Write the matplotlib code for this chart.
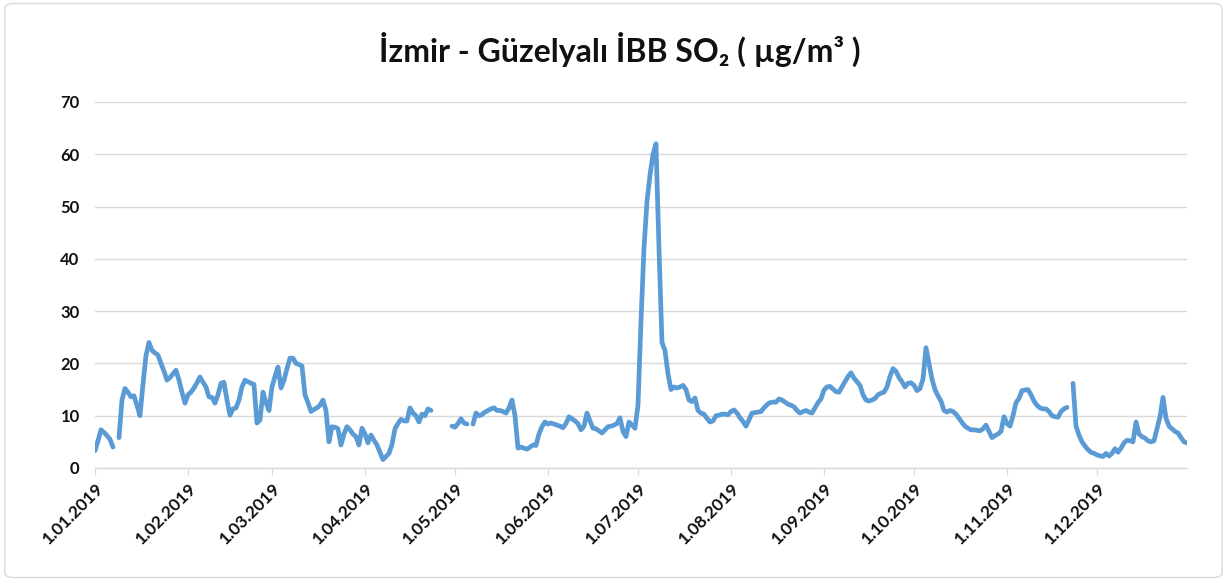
import numpy as np
import matplotlib
matplotlib.use("Agg")
import matplotlib.pyplot as plt
from matplotlib.patches import FancyBboxPatch

nan = np.nan
title = "İzmir - Güzelyalı İBB SO₂ ( µg/m³ )"
month_labels = ["1.01.2019", "1.02.2019", "1.03.2019", "1.04.2019", "1.05.2019", "1.06.2019",
                "1.07.2019", "1.08.2019", "1.09.2019", "1.10.2019", "1.11.2019", "1.12.2019"]
month_days = [31, 28, 31, 30, 31, 30, 31, 31, 30, 31, 30, 31]

jan = [3.3, 5.2, 7.3, 6.8, 6.2, 5.5, 4.0, nan, 5.8, 13.0, 15.2, 14.5, 13.6, 13.8, 12.0, 10.0,
       16.0, 21.5, 24.0, 22.5, 22.0, 21.6, 20.0, 18.5, 16.8, 17.3, 18.0, 18.7, 16.8, 14.5, 12.4]
feb = [14.0, 14.5, 15.3, 16.3, 17.4, 16.4, 15.5, 13.6, 13.5, 12.4, 14.0, 16.2, 16.4, 13.0,
       10.1, 11.3, 11.5, 13.0, 15.5, 16.8, 16.5, 16.2, 16.0, 8.6, 9.2, 14.5, 12.5, 11.0]
mar = [15.5, 17.5, 19.3, 15.3, 16.8, 19.0, 21.0, 21.0, 20.0, 19.8, 19.5, 14.0, 12.5, 10.8,
       11.2, 11.5, 12.0, 13.0, 11.0, 5.0, 7.9, 7.8, 7.5, 4.4, 6.5, 7.9, 7.3, 6.5, 6.0, 4.4, 7.6]
apr = [6.5, 4.8, 6.3, 5.3, 4.4, 3.0, 1.6, 2.2, 2.8, 4.5, 7.5, 8.5, 9.3, 9.0, 9.0, 11.5, 10.5,
       10.0, 8.8, 10.3, 10.0, 11.3, 11.0, nan, nan, nan, nan, nan, nan, 8.0]
may = [7.8, 8.5, 9.4, 8.6, 8.4, nan, 8.4, 10.5, 10.0, 10.2, 10.7, 11.0, 11.3, 11.5, 11.0,
       11.0, 10.8, 10.5, 11.5, 13.0, 10.0, 3.8, 4.0, 3.8, 3.6, 4.0, 4.4, 4.3, 6.5, 7.9, 8.8]
jun = [8.4, 8.6, 8.4, 8.2, 8.0, 7.7, 8.5, 9.8, 9.4, 9.0, 8.5, 7.3, 8.0, 10.5, 9.0, 7.6, 7.5,
       7.1, 6.7, 7.3, 7.9, 8.0, 8.2, 8.5, 9.6, 7.0, 6.0, 8.8, 8.2, 7.6]
jul = [12.0, 28.0, 42.0, 51.0, 56.0, 60.0, 62.0, 42.0, 24.0, 22.5, 18.0, 15.0, 15.5, 15.3,
       15.5, 15.8, 15.0, 13.0, 12.7, 13.4, 11.0, 10.5, 10.3, 9.5, 8.8, 9.0, 10.0, 10.1, 10.3,
       10.3, 10.2]
aug = [10.8, 11.1, 10.5, 9.6, 8.9, 8.0, 9.2, 10.5, 10.6, 10.7, 10.8, 11.5, 12.1, 12.5, 12.6,
       12.6, 13.2, 13.0, 12.6, 12.2, 12.0, 11.7, 11.0, 10.5, 10.8, 11.0, 10.7, 10.5, 11.5, 12.5,
       13.2]
sep = [14.9, 15.5, 15.6, 15.1, 14.6, 14.5, 15.5, 16.5, 17.5, 18.2, 17.2, 16.5, 15.8, 14.0,
       13.0, 12.8, 13.0, 13.3, 14.0, 14.3, 14.5, 15.5, 17.5, 19.0, 18.5, 17.3, 16.5, 15.5, 16.2,
       16.3]
oct_ = [15.8, 14.8, 15.2, 17.0, 23.0, 20.0, 17.0, 15.0, 13.8, 12.8, 11.0, 10.7, 11.0, 10.8,
        10.3, 9.5, 8.7, 8.0, 7.6, 7.3, 7.3, 7.2, 7.1, 7.5, 8.2, 7.0, 5.8, 6.2, 6.5, 7.0, 9.8]
nov = [8.5, 8.0, 10.0, 12.5, 13.3, 14.8, 14.9, 15.0, 14.0, 12.8, 12.0, 11.5, 11.3, 11.3, 10.8,
       10.0, 9.8, 9.7, 10.8, 11.3, 11.6, nan, 16.2, 8.0, 6.3, 5.0, 4.2, 3.5, 3.0, 2.8]
dec = [2.5, 2.3, 2.2, 2.8, 2.3, 2.8, 3.7, 3.0, 3.8, 4.8, 5.3, 5.2, 5.0, 8.8, 6.5, 6.0, 5.7,
       5.2, 5.0, 5.2, 7.5, 9.8, 13.5, 9.5, 8.0, 7.5, 7.0, 6.7, 5.8, 5.0, 4.8]

values = np.array(jan + feb + mar + apr + may + jun + jul + aug + sep + oct_ + nov + dec)
days = np.arange(len(values))
month_starts = np.concatenate([[0], np.cumsum(month_days)[:-1]])

fam = ["Lato", "DejaVu Sans"]
plt.rcParams["font.family"] = fam

fig = plt.figure(figsize=(12.27, 5.81), dpi=100)
fig.patches.append(FancyBboxPatch((0.004, 0.006), 0.992, 0.988, boxstyle="round,pad=0,rounding_size=0.008",
                                  transform=fig.transFigure, fill=False, edgecolor="#d9d9d9", lw=1.0))
ax = fig.add_axes([0.0774, 0.1945, 0.89, 0.63])

ax.plot(days, values, color="#5b9bd5", lw=3.4, solid_capstyle="round", solid_joinstyle="round")

ax.set_xlim(0, len(values) - 1)
ax.set_ylim(0, 70)
ax.set_yticks(np.arange(0, 71, 10))
ax.yaxis.grid(True, color="#d9d9d9", lw=1.0)
ax.set_axisbelow(True)
for s in ["top", "right", "left"]:
    ax.spines[s].set_visible(False)
ax.spines["bottom"].set_color("#d9d9d9")
ax.spines["bottom"].set_linewidth(1.0)

ax.set_xticks(month_starts)
ax.set_xticklabels(month_labels, rotation=45, ha="right", rotation_mode="anchor",
                   fontsize=12.5, fontweight="bold", color="#111111")
ax.tick_params(axis="x", length=5, color="#d9d9d9", pad=4)
ax.tick_params(axis="y", length=0, pad=11, labelsize=12)
for lab in ax.get_yticklabels():
    lab.set_fontweight("bold")
    lab.set_color("#111111")

fig.text(0.505, 0.915, title, ha="center", va="center", fontsize=23, fontweight="bold",
         color="#111111", family=fam)

fig.savefig("out.png", dpi=100)
